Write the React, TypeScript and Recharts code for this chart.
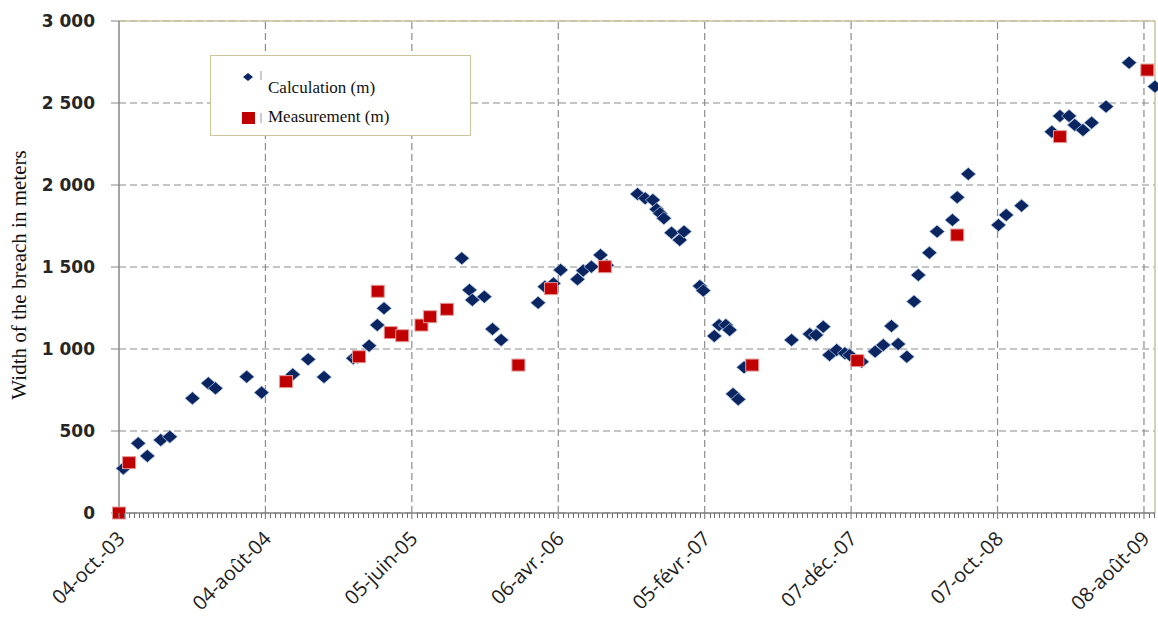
import {
  CartesianGrid,
  ReferenceLine,
  Scatter,
  ScatterChart,
  XAxis,
  YAxis,
} from "recharts";

// days counted from 04-oct.-03
const CALC_DAYS = [
  9, 40, 59, 87, 106, 153, 186, 201, 266, 297, 362, 394, 427, 488, 497, 521,
  538, 552, 714, 730, 736, 761, 778, 796, 873, 887, 905, 920, 955, 967, 984,
  1003, 1016, 1080, 1096, 1112, 1120, 1127, 1135, 1151, 1168, 1177, 1210, 1217,
  1240, 1250, 1264, 1272, 1279, 1290, 1302, 1401, 1439, 1452, 1467, 1480, 1495,
  1512, 1522, 1547, 1575, 1592, 1609, 1623, 1641, 1656, 1665, 1688, 1704, 1736,
  1746, 1769, 1832, 1848, 1880, 1943, 1960, 1979, 1991, 2008, 2026, 2056, 2104,
  2158,
];
const CALC_WIDTH = [
  272, 425, 348, 445, 465, 699, 791, 760, 831, 734, 845, 937, 829, 943, 950,
  1020, 1146, 1248, 1553, 1360, 1299, 1319, 1122, 1055, 1282, 1380, 1400, 1482,
  1425, 1478, 1502, 1573, 1510, 1945, 1919, 1909, 1852, 1827, 1797, 1709, 1665,
  1716, 1384, 1356, 1079, 1146, 1146, 1116, 726, 693, 888, 1055, 1091, 1085,
  1136, 963, 994, 974, 963, 923, 984, 1024, 1140, 1030, 953, 1290, 1451, 1587,
  1716, 1787, 1925, 2067, 1756, 1817, 1874, 2325, 2421, 2421, 2366, 2335, 2380,
  2478, 2746, 2600,
];

const MEAS_DAYS = [
  0, 21, 348, 500, 539, 566, 590, 630, 648, 683, 832, 900, 1012, 1319, 1538,
  1746, 1960, 2142,
];
const MEAS_WIDTH = [
  0, 307, 801, 953, 1352, 1100, 1081, 1146, 1197, 1242, 902, 1368, 1502, 902,
  929, 1695, 2295, 2701,
];

const MAJOR_STEP = 305;
const MAJOR_LABELS = [
  "04-oct.-03",
  "04-août-04",
  "05-juin-05",
  "06-avr.-06",
  "05-févr.-07",
  "07-déc.-07",
  "07-oct.-08",
  "08-août-09",
];
const MINOR_PER_MAJOR = 30;
const X_MAX = 2158;
const Y_TICKS = [0, 500, 1000, 1500, 2000, 2500, 3000];

const calcData = CALC_DAYS.map((day, i) => ({ day, width: CALC_WIDTH[i] }));
const measData = MEAS_DAYS.map((day, i) => ({ day, width: MEAS_WIDTH[i] }));
const majorTicks = MAJOR_LABELS.map((_, i) => i * MAJOR_STEP);
const minorTicks: number[] = [];
for (let i = 0; (i * MAJOR_STEP) / MINOR_PER_MAJOR <= X_MAX; i++) {
  minorTicks.push((i * MAJOR_STEP) / MINOR_PER_MAJOR);
}

const NAVY = "#0b2561";
const RED = "#c00000";
const AXIS = "#868686";
const BORDER = "#cdc49c";

const fmtSpace = (v: number) =>
  String(v).replace(/\B(?=(\d{3})+(?!\d))/g, " ");

function Diamond(props: any) {
  const { cx, cy } = props;
  if (cx == null || cy == null) return null;
  const w = 7.5;
  const h = 6.5;
  return (
    <polygon
      points={`${cx - w},${cy} ${cx},${cy - h} ${cx + w},${cy} ${cx},${cy + h}`}
      fill={NAVY}
      stroke="#a9c0e0"
      strokeWidth={0.8}
    />
  );
}

function Square(props: any) {
  const { cx, cy } = props;
  if (cx == null || cy == null) return null;
  return (
    <rect
      x={cx - 6.5}
      y={cy - 6}
      width={13}
      height={12}
      fill={RED}
      stroke="#e59a9a"
      strokeWidth={1}
    />
  );
}

function DateTick(props: any) {
  const { x, y, payload } = props;
  const step = Math.round(payload.value / (MAJOR_STEP / MINOR_PER_MAJOR));
  const major = step % MINOR_PER_MAJOR === 0;
  if (!major) {
    return (
      <line
        x1={Math.round(x) + 0.5}
        x2={Math.round(x) + 0.5}
        y1={y}
        y2={y + 5}
        stroke="#6f6f6f"
        strokeWidth={1}
        shapeRendering="crispEdges"
      />
    );
  }
  const label = MAJOR_LABELS[step / MINOR_PER_MAJOR];
  const ax = x + 7;
  const ay = y + 27;
  return (
    <g>
      <line x1={x} x2={x} y1={y} y2={y + 6} stroke={AXIS} strokeWidth={1.2} />
      <text
        x={ax}
        y={ay}
        textAnchor="end"
        transform={`rotate(-45, ${ax}, ${ay})`}
        fill="#1e1e1e"
        fontSize={20}
        fontFamily="'Open Sans', sans-serif"
      >
        {label}
      </text>
    </g>
  );
}

function YTitle(props: any) {
  const { viewBox } = props;
  const x = viewBox.x + 26;
  const y = viewBox.y + viewBox.height / 2 + 8;
  return (
    <text
      x={x}
      y={y}
      transform={`rotate(-90, ${x}, ${y})`}
      textAnchor="middle"
      fill="#111"
      fontSize={21}
      fontFamily="'Liberation Serif', 'Times New Roman', serif"
    >
      Width of the breach in meters
    </text>
  );
}

function LegendBox() {
  const text = {
    fontFamily: "'Liberation Serif', 'Times New Roman', serif",
    fontSize: 17,
    color: "#111",
  };
  return (
    <div
      style={{
        position: "absolute",
        left: 210,
        top: 55,
        width: 261,
        height: 81,
        background: "#fff",
        border: `1.5px solid ${BORDER}`,
        boxSizing: "border-box",
      }}
    >
      <svg width={60} height={81} style={{ position: "absolute", left: 0, top: 0 }}>
        <polygon points="32,21 37,17 42,21 37,25" fill={NAVY} />
        <line x1={50} x2={50} y1={15} y2={24} stroke="#999" strokeWidth={1} />
        <rect x={31} y={56} width={13} height={12} fill={RED} />
        <line x1={50} x2={50} y1={57} y2={67} stroke="#999" strokeWidth={1} />
      </svg>
      <div style={{ ...text, position: "absolute", left: 57, top: 22, lineHeight: "20px" }}>
        Calculation (m)
      </div>
      <div style={{ ...text, position: "absolute", left: 57, top: 51, lineHeight: "20px" }}>
        Measurement (m)
      </div>
    </div>
  );
}

export default function App() {
  return (
    <div
      style={{
        position: "absolute",
        left: 0,
        top: 0,
        width: 1158,
        height: 621,
        background: "#fff",
      }}
    >
      <ScatterChart
        width={1158}
        height={621}
        margin={{ top: 21, right: 3, bottom: 8, left: 0 }}
      >
        <CartesianGrid
          vertical={false}
          stroke="#8c8c8c"
          strokeDasharray="7 4"
          strokeWidth={1.2}
        />
        <XAxis
          type="number"
          dataKey="day"
          domain={[0, X_MAX]}
          ticks={minorTicks}
          interval={0}
          minTickGap={0}
          tick={<DateTick />}
          tickLine={false}
          tickSize={0}
          tickMargin={0}
          axisLine={{ stroke: AXIS, strokeWidth: 1.5 }}
          height={100}
        />
        <YAxis
          type="number"
          dataKey="width"
          domain={[0, 3000]}
          ticks={Y_TICKS}
          interval={0}
          width={119}
          tickFormatter={fmtSpace}
          tick={{
            fill: "#262626",
            fontSize: 17,
            fontWeight: "bold",
            fontFamily: "'DejaVu Sans', sans-serif",
          }}
          tickSize={8}
          tickMargin={16}
          tickLine={{ stroke: AXIS }}
          axisLine={{ stroke: AXIS, strokeWidth: 1.5 }}
          label={<YTitle />}
        />
        {majorTicks.slice(1).map((d) => (
          <ReferenceLine
            key={d}
            x={d}
            stroke="#8c8c8c"
            strokeDasharray="7 4"
            strokeWidth={1.2}
          />
        ))}
        <ReferenceLine y={3000} stroke={BORDER} strokeWidth={1.5} />
        <ReferenceLine x={X_MAX} stroke={BORDER} strokeWidth={1.5} />
        <Scatter
          name="Calculation (m)"
          data={calcData}
          shape={<Diamond />}
          isAnimationActive={false}
        />
        <Scatter
          name="Measurement (m)"
          data={measData}
          shape={<Square />}
          isAnimationActive={false}
        />
      </ScatterChart>
      <LegendBox />
    </div>
  );
}
